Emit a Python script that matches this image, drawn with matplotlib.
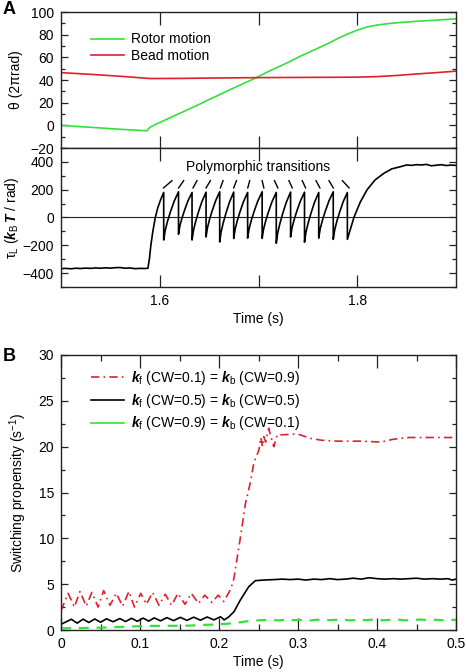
import numpy as np
import matplotlib
matplotlib.use("Agg")
import matplotlib.pyplot as plt
from matplotlib.ticker import FixedLocator, MultipleLocator, FuncFormatter

plt.rcParams['font.family'] = ['Liberation Sans', 'DejaVu Sans']
plt.rcParams['mathtext.fontset'] = 'custom'
plt.rcParams['mathtext.rm'] = 'Liberation Sans'
plt.rcParams['mathtext.it'] = 'Liberation Sans:italic'
plt.rcParams['mathtext.bf'] = 'Liberation Sans:bold'
try:
    plt.rcParams['mathtext.bfit'] = 'Liberation Sans:italic:bold'
    BFIT = r'\mathbfit'
except KeyError:
    BFIT = r'\mathbf'

# ---------------- Panel A data ----------------
rotor_t = [1.5, 1.52, 1.54, 1.56, 1.575, 1.587, 1.590, 1.595, 1.60, 1.61, 1.62, 1.63, 1.64,
           1.65, 1.66, 1.67, 1.68, 1.69, 1.70, 1.71, 1.72, 1.73, 1.74, 1.75, 1.76, 1.77,
           1.78, 1.79, 1.80, 1.81, 1.82, 1.83, 1.84, 1.86, 1.88, 1.90]
rotor_v = [0.0, -1.2, -2.3, -3.5, -4.2, -4.8, -1.8, 0.5, 2.5, 6.5, 10.5, 14.5, 18.5,
           22.8, 26.8, 31.0, 35.0, 39.0, 43.0, 47.5, 51.5, 55.5, 60.0, 64.0, 68.0, 72.0,
           76.5, 80.5, 84.0, 86.8, 88.5, 89.6, 90.5, 91.8, 92.8, 94.0]

bead_t = [1.5, 1.53, 1.56, 1.59, 1.62, 1.65, 1.70, 1.75, 1.80, 1.82, 1.84, 1.86, 1.88, 1.90]
bead_v = [46.5, 45.0, 43.3, 41.3, 41.4, 41.7, 42.1, 42.3, 42.5, 43.0, 44.0, 45.3, 46.5, 47.8]

torque_pre_t = [1.5, 1.505, 1.51, 1.515, 1.52, 1.525, 1.53, 1.535, 1.54, 1.545, 1.55, 1.555,
                1.56, 1.565, 1.57, 1.575, 1.58, 1.585, 1.588]
torque_pre_v = [-368, -366, -369, -365, -367, -364, -366, -363, -365, -362, -364, -361,
                -360, -365, -363, -368, -366, -367, -365]
first_rise_t = [1.5895, 1.591, 1.593, 1.5955, 1.598, 1.601]
first_rise_v = [-300, -200, -100, 0, 70, 130]
peak_t = [1.604, 1.619, 1.6327, 1.6469, 1.6607, 1.6749, 1.689, 1.7037, 1.718, 1.7325,
          1.7466, 1.761, 1.7757, 1.790]
peak_v = [180, 185, 180, 182, 185, 183, 180, 185, 180, 183, 182, 180, 185, 180]
trough_v = [-162, -121, -162, -140, -176, -151, -148, -150, -185, -140, -178, -148, -157, -157]
tooth_phase = [0.0, 0.1, 0.25, 0.45, 0.7, 1.0]
tooth_frac = [0.0, 0.2, 0.38, 0.58, 0.8, 1.0]
final_t = [1.7966, 1.803, 1.81, 1.818, 1.827, 1.835, 1.844, 1.85, 1.855, 1.86, 1.865, 1.87,
           1.875, 1.88, 1.885, 1.89, 1.895, 1.9]
final_v = [0, 110, 200, 270, 318, 350, 366, 378, 375, 380, 378, 382, 372, 376, 380, 374, 377, 375]

mark_t0 = [1.6039, 1.6191, 1.6337, 1.6469, 1.6614, 1.6749, 1.6891, 1.7054, 1.7196, 1.7342,
           1.7477, 1.7622, 1.7757, 1.7917]
mark_t1 = [1.6124, 1.6242, 1.6377, 1.6513, 1.6641, 1.6777, 1.6911, 1.7037, 1.7162, 1.7308,
           1.7443, 1.7582, 1.7714, 1.7850]
mark_y = [213, 265]

# ---------------- Panel B data ----------------
osc_t = [0.0, 0.0131, 0.0205, 0.0279, 0.0353, 0.0427, 0.0501, 0.0575, 0.066, 0.0744, 0.0818,
         0.0892, 0.0966, 0.104, 0.111, 0.118, 0.126, 0.134, 0.1425, 0.151, 0.1595, 0.168,
         0.1765, 0.185, 0.1935, 0.202, 0.2065]
black_osc = [0.62, 1.17, 0.75, 1.18, 0.82, 1.2, 0.85, 1.22, 0.9, 1.25, 0.92, 1.28, 0.95, 1.3,
             0.97, 1.32, 1.0, 1.35, 1.02, 1.38, 1.05, 1.4, 1.07, 1.42, 1.1, 1.45, 1.1]
black_rise_t = [0.212, 0.219, 0.227, 0.2377, 0.246, 0.2568]
black_rise_v = [1.4, 2.0, 3.27, 4.73, 5.38, 5.45]
black_plat_t = [0.27, 0.28, 0.29, 0.30, 0.31, 0.32, 0.33, 0.34, 0.35, 0.36, 0.37, 0.38, 0.39,
                0.40, 0.41, 0.42, 0.43, 0.44, 0.45, 0.46, 0.47, 0.48, 0.49, 0.495, 0.50]
black_plat_v = [5.5, 5.55, 5.5, 5.55, 5.45, 5.55, 5.5, 5.6, 5.5, 5.55, 5.65, 5.55, 5.7, 5.6,
                5.55, 5.6, 5.55, 5.6, 5.65, 5.55, 5.6, 5.55, 5.6, 5.45, 5.55]

red_osc_t = [0.0, 0.009, 0.017, 0.024, 0.032, 0.039, 0.047, 0.054, 0.062, 0.070, 0.078, 0.086,
             0.093, 0.101, 0.108, 0.116, 0.124, 0.132, 0.140, 0.148, 0.157, 0.165, 0.174,
             0.182, 0.191, 0.199, 0.206]
red_osc_v = [2.1, 4.0, 2.5, 4.2, 2.6, 4.1, 2.5, 4.3, 2.7, 4.0, 2.6, 4.2, 2.5, 4.0, 2.8, 4.1,
             2.7, 3.9, 2.7, 4.0, 2.8, 4.0, 2.9, 3.8, 3.0, 3.8, 3.1]
red_rise_t = [0.2145, 0.2186, 0.226, 0.2335, 0.24, 0.244, 0.2504, 0.253, 0.255, 0.2567,
              0.259, 0.263, 0.266, 0.2694, 0.2737, 0.282, 0.299, 0.316, 0.33, 0.35, 0.38,
              0.405, 0.42, 0.44, 0.46, 0.48, 0.50]
red_rise_v = [4.4, 5.5, 9.5, 13.8, 16.2, 18.2, 19.6, 21.0, 20.0, 21.1, 20.5, 22.0, 21.0,
              20.0, 21.3, 21.3, 21.4, 20.9, 20.7, 20.6, 20.6, 20.5, 20.8, 21.0, 21.0, 21.0, 21.0]

green_t = [0.0, 0.02, 0.05, 0.08, 0.104, 0.13, 0.16, 0.18, 0.20, 0.215, 0.227, 0.235, 0.244,
           0.255, 0.265, 0.275, 0.285, 0.295, 0.305, 0.315, 0.325, 0.335, 0.345, 0.355,
           0.365, 0.375, 0.385, 0.395, 0.405, 0.415, 0.425, 0.435, 0.445, 0.455, 0.465,
           0.475, 0.485, 0.495, 0.50]
green_v = [0.18, 0.2, 0.25, 0.35, 0.44, 0.45, 0.47, 0.55, 0.62, 0.72, 0.84, 0.95, 1.02,
           1.08, 1.1, 1.05, 1.12, 1.08, 1.1, 1.04, 1.12, 1.06, 1.1, 1.14, 1.05, 1.1, 1.08,
           1.13, 1.06, 1.1, 1.15, 1.05, 1.1, 1.14, 1.08, 1.12, 1.05, 1.1, 1.1]

# --------------- build torque series ---------------
tq_t = list(torque_pre_t) + list(first_rise_t) + [peak_t[0]]
tq_v = list(torque_pre_v) + list(first_rise_v) + [peak_v[0]]
for k in range(len(peak_t)):
    tq_t.append(peak_t[k]); tq_v.append(trough_v[k])
    if k + 1 < len(peak_t):
        t0, t1 = peak_t[k], peak_t[k + 1]
        v0, v1 = trough_v[k], peak_v[k + 1]
        for ph, fr in zip(tooth_phase[1:], tooth_frac[1:]):
            tq_t.append(t0 + ph * (t1 - t0)); tq_v.append(v0 + fr * (v1 - v0))
tq_t += final_t
tq_v += final_v

GREEN = '#35e03a'
RED = '#e0202e'
FS = 10

fig = plt.figure(figsize=(4.66, 6.72), dpi=100)
L, W = 61 / 466, 395 / 466
axA1 = fig.add_axes([L, 1 - 148 / 672, W, 136 / 672])
axA2 = fig.add_axes([L, 1 - 287 / 672, W, 139 / 672])
axB = fig.add_axes([L, 1 - 630 / 672, W, 275 / 672])

def style(ax):
    for s in ax.spines.values():
        s.set_linewidth(1.0)
        s.set_color('#222222')
    ax.tick_params(which='both', direction='in', top=True, right=True,
                   labelsize=FS, color='#222222', width=0.9)
    ax.tick_params(axis='y', which='major', length=5, pad=5)
    ax.tick_params(axis='y', which='minor', length=3)
    ax.tick_params(axis='x', which='major', length=9, pad=5)
    ax.tick_params(axis='x', which='minor', length=4)

for ax in (axA1, axA2, axB):
    style(ax)

# A top
axA1.plot(rotor_t, rotor_v, color=GREEN, lw=1.2, label='Rotor motion')
axA1.plot(bead_t, bead_v, color=RED, lw=1.2, label='Bead motion')
axA1.set_xlim(1.5, 1.9)
axA1.set_ylim(-20, 100)
axA1.yaxis.set_major_locator(MultipleLocator(20))
axA1.yaxis.set_minor_locator(MultipleLocator(10))
axA1.xaxis.set_major_locator(FixedLocator([1.6, 1.7, 1.8]))
axA1.tick_params(axis='x', labelbottom=False)
axA1.set_ylabel('θ (2πrad)', fontsize=FS, labelpad=5)
legA = axA1.legend(loc='upper left', frameon=False, fontsize=FS,
                   handlelength=2.4, handletextpad=0.5, labelspacing=0.2, borderaxespad=0.0,
                   borderpad=0.0)
legA.set_bbox_to_anchor((0.075, 0.85), transform=axA1.transAxes)

# A bottom
axA2.axhline(0, color='#222222', lw=0.8)
axA2.plot(tq_t, tq_v, color='black', lw=1.2)
for a, b in zip(mark_t0, mark_t1):
    axA2.plot([a, b], mark_y, color='black', lw=1.0)
axA2.text(1.7, 364, 'Polymorphic transitions', ha='center', va='center', fontsize=FS)
axA2.set_xlim(1.5, 1.9)
axA2.set_ylim(-500, 500)
axA2.yaxis.set_major_locator(MultipleLocator(200))
axA2.yaxis.set_minor_locator(MultipleLocator(100))
axA2.xaxis.set_major_locator(FixedLocator([1.6, 1.7, 1.8]))
axA2.xaxis.set_major_formatter(FuncFormatter(lambda v, p: '' if abs(v - 1.7) < 1e-6 else f'{v:.1f}'))
axA2.set_xlabel('Time (s)', fontsize=FS, labelpad=3)
axA2.set_ylabel('τ$_\\mathrm{L}$ ($' + BFIT + r'{k}_\mathrm{B}\,' + BFIT + '{T}$ / rad)',
                fontsize=FS, labelpad=1)

# B
red_t = red_osc_t + red_rise_t
red_v = red_osc_v + red_rise_v
blk_t = osc_t + black_rise_t + black_plat_t
blk_v = black_osc + black_rise_v + black_plat_v
def klab(a, b):
    return ('$' + BFIT + r'{k}_\mathrm{f}$ (CW=' + a + ') = $' + BFIT + r'{k}_\mathrm{b}$ (CW=' + b + ')')
axB.plot(red_t, red_v, color=RED, lw=1.2, dashes=(5, 2.5, 1, 2.5), label=klab('0.1', '0.9'))
axB.plot(blk_t, blk_v, color='black', lw=1.2, label=klab('0.5', '0.5'))
axB.plot(green_t, green_v, color=GREEN, lw=1.6, dashes=(4.5, 3.5), label=klab('0.9', '0.1'))
axB.set_xlim(0, 0.5)
axB.set_ylim(0, 30)
axB.xaxis.set_major_locator(MultipleLocator(0.1))
axB.xaxis.set_minor_locator(MultipleLocator(0.05))
axB.xaxis.set_major_formatter(FuncFormatter(lambda v, p: '0' if abs(v) < 1e-9 else f'{v:.1f}'))
axB.yaxis.set_major_locator(MultipleLocator(5))
axB.yaxis.set_minor_locator(MultipleLocator(2.5))
axB.set_xlabel('Time (s)', fontsize=FS, labelpad=3)
axB.set_ylabel('Switching propensity (s$^{-1}$)', fontsize=FS, labelpad=7)
leg = axB.legend(loc='upper left', frameon=False, fontsize=FS, handlelength=2.4,
                 handletextpad=0.5, labelspacing=0.35, borderaxespad=0.0, borderpad=0.0)
leg.set_bbox_to_anchor((0.075, 0.95), transform=axB.transAxes)
leg.get_lines()[2].set_linestyle('-')
leg.get_lines()[2].set_linewidth(1.2)

fig.text(0.006, 0.998, 'A', fontsize=13, fontweight='bold', va='top', ha='left')
fig.text(0.006, 0.482, 'B', fontsize=13, fontweight='bold', va='top', ha='left')

fig.savefig('out.png', dpi=100)
